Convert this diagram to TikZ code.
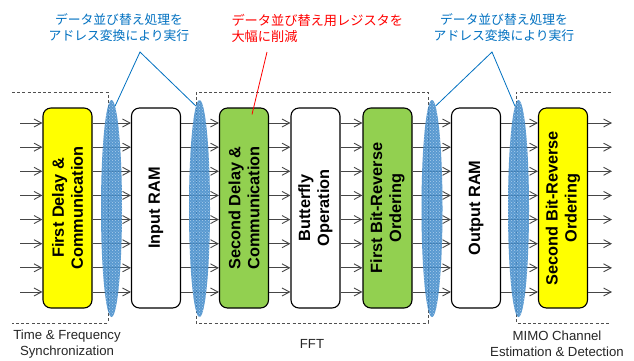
\documentclass[tikz,border=0pt]{standalone}
\usepackage{fontspec}
\setmainfont{Liberation Sans}
\newfontfamily\jp{Noto Sans CJK JP}
\usetikzlibrary{arrows.meta,patterns,shapes.geometric,calc}
\definecolor{jpblue}{RGB}{0,112,192}
\definecolor{jpred}{RGB}{255,0,0}
\definecolor{ygreen}{RGB}{146,208,80}
\definecolor{byellow}{RGB}{255,255,0}
\definecolor{ellfill}{RGB}{60,135,200}
\definecolor{elldot}{RGB}{170,205,235}
\definecolor{linegray}{RGB}{70,70,70}
\definecolor{dashgray}{RGB}{80,80,80}
\begin{document}
\begin{tikzpicture}[x=1pt,y=-1pt,
  blk/.style={draw=black, line width=1.1pt, rounded corners=8pt, minimum width=49pt, minimum height=200pt, inner sep=0pt},
  blab/.style={rotate=90, font=\fontsize{16.3}{19}\selectfont\bfseries, align=center},
  ell/.style={ellipse, draw=none, minimum width=21pt, minimum height=217pt, inner sep=0pt,
    preaction={fill=ellfill, fill opacity=0.85}, pattern=crosshatch dots, pattern color=elldot},
  arr/.style={draw=linegray, line width=0.9pt, -{Straight Barb[length=7.5pt,width=8pt]}},
  dbox/.style={draw=dashgray, line width=0.8pt, dash pattern=on 3pt off 2.2pt},
  jlab/.style={font=\jp\fontsize{12.8}{16}\selectfont, align=center},
  blab2/.style={font=\fontsize{13.2}{16}\selectfont, align=center, text=black!85, inner sep=0pt},
]
\useasboundingbox (0,0) rectangle (634,360);

% dashed group boxes
\draw[dbox] (12,92) -- (108,92) -- (108,323) -- (12,323);
\draw[dbox] (196,92) rectangle (428,323);
\draw[dbox] (611,92) -- (516,92) -- (516,323) -- (611,323);

% blocks
\node[blk, fill=byellow] (b1) at (67.5,208) {};
\node[blk, fill=white]   (b2) at (156,208) {};
\node[blk, fill=ygreen]  (b3) at (244,208) {};
\node[blk, fill=white]   (b4) at (315.5,208) {};
\node[blk, fill=ygreen]  (b5) at (387.5,208) {};
\node[blk, fill=white]   (b6) at (476,208) {};
\node[blk, fill=byellow] (b7) at (563,208) {};

\node[blab] at (b1) {First Delay \&\\Communication};
\node[blab] at (b2) {Input RAM};
\node[blab] at (b3) {Second Delay \&\\Communication};
\node[blab] at (b4) {Butterfly\\Operation};
\node[blab] at (b5) {First Bit-Reverse\\Ordering};
\node[blab] at (b6) {Output RAM};
\node[blab] at (b7) {Second Bit-Reverse\\Ordering};

% arrows
\foreach \i in {0,...,7} {
  \coordinate (in\i) at (20,{123+\i*24.14});
  \coordinate (out\i) at (612,{123+\i*24.14});
  \draw[arr] (in\i) -- (b1.west |- in\i);
  \foreach \a/\b in {b1/b2,b2/b3,b3/b4,b4/b5,b5/b6,b6/b7} {
    \draw[arr] (\a.east |- in\i) -- (\b.west |- in\i);
  }
  \draw[arr] (b7.east |- in\i) -- (out\i);
}

% ellipses (address-transform reordering)
\node[ell] (e1) at (111.5,208.5) {};
\node[ell] (e2) at (199.5,208.5) {};
\node[ell] (e3) at (432,208.5) {};
\node[ell] (e4) at (518.5,208.5) {};

% labels
\node[jlab, text=jpblue] (l1) at (119,28) {データ並び替え処理を\\アドレス変換により実行};
\node[jlab, text=jpblue] (l3) at (504,28) {データ並び替え処理を\\アドレス変換により実行};
\node[font=\jp\fontsize{13.2}{16}\selectfont, align=left, text=jpred, anchor=west] (l2) at (228,28) {データ並び替え用レジスタを\\大幅に削減};

\coordinate (a1) at (140,52);
\coordinate (a3) at (492,52);
\coordinate (a2) at (267,52);
\draw[jpblue, line width=0.8pt] (e1.88) -- (a1) -- (e2.92);
\draw[jpblue, line width=0.8pt] (e3.88) -- (a3) -- (e4.92);
\draw[jpred, line width=0.8pt] (a2) -- ($(b3.north)+(8,7)$);

% group captions
\node[blab2] (t1) at (67,344) {Time \& Frequency\\Synchronization};
\node[blab2] (t2) at (312,344) {FFT};
\node[blab2] (t3) at (557,344) {MIMO Channel\\Estimation \& Detection};
\end{tikzpicture}
\end{document}
